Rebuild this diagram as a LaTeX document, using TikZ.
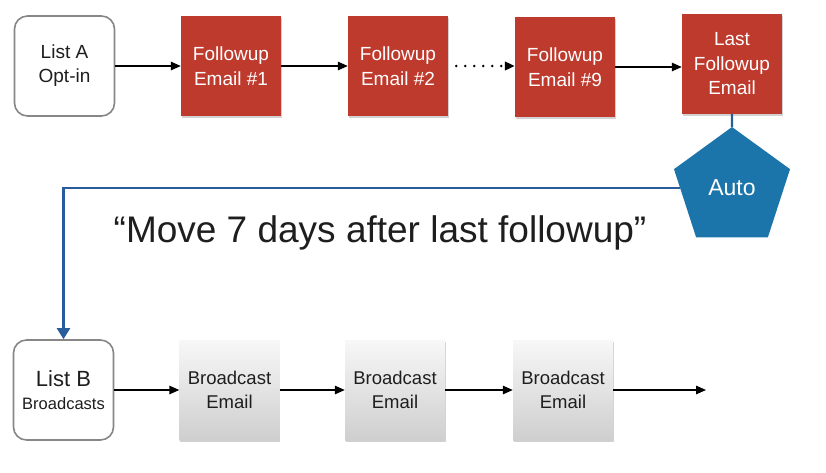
\documentclass[tikz,border=0pt]{standalone}
\usepackage{fontspec}
\setmainfont{Liberation Sans}
\usetikzlibrary{shapes.geometric,arrows.meta,shadows}
\definecolor{fured}{RGB}{190,58,45}
\definecolor{autoblue}{RGB}{28,117,170}
\definecolor{lineblue}{RGB}{40,92,155}
\definecolor{listgray}{RGB}{135,135,135}
\definecolor{txtdark}{RGB}{30,30,30}
\tikzset{
  listbox/.style={draw=listgray, line width=1.6pt, rounded corners=13pt, fill=white,
    minimum width=100pt, minimum height=100pt, inner sep=0pt, align=center, text=txtdark},
  redbox/.style={fill=fured, minimum width=100pt, minimum height=100pt, inner sep=0pt,
    align=center, text=white, font=\fontsize{19}{24.5}\selectfont,
    drop shadow={shadow xshift=0.5pt, shadow yshift=-2pt, opacity=0.35}},
  bcbox/.style={top color=gray!6, bottom color=gray!38, minimum width=100pt, minimum height=100pt,
    inner sep=0pt, align=center, text=txtdark, font=\fontsize{18.5}{24}\selectfont,
    drop shadow={shadow xshift=0.5pt, shadow yshift=-2pt, opacity=0.35}},
  autoshape/.style={regular polygon, regular polygon sides=5, minimum size=122pt, inner sep=0pt,
    fill=autoblue, text=white, font=\fontsize{23}{27}\selectfont},
  flow/.style={-{Triangle[length=10pt,width=8.5pt]}, line width=1.4pt, black},
  dotflow/.style={flow, dash pattern=on 0pt off 9pt, line cap=round, line width=2.6pt},
  moveline/.style={lineblue, line width=2.2pt},
  movearrow/.style={moveline, -{Triangle[length=11pt,width=13pt]}},
}
\begin{document}
\begin{tikzpicture}[x=1pt,y=-1pt]
\fill[white] (0,0) rectangle (826,472);
\useasboundingbox (0,0) rectangle (826,472);

% top row
\node[listbox, font=\fontsize{19}{24}\selectfont] (lista) at (64.5,66) {List A\\Opt-in};
\node[redbox] (f1) at (231,66) {Followup\\Email \#1};
\node[redbox] (f2) at (398,66) {Followup\\Email \#2};
\node[redbox] (f9) at (565,67) {Followup\\Email \#9};
\node[redbox] (last) at (732,64) {Last\\Followup\\Email};

\draw[flow] (lista.east) -- (f1.west);
\draw[flow] (f1.east) -- (f2.west);
\draw[dotflow] ([xshift=8pt]f2.east) -- (f9.west |- f2.east);
\draw[flow] (f9.east) -- (last.west |- f9.east);

% auto pentagon and move line
\node[autoshape] (auto) at (732,188) {Auto};
\draw[moveline] (last.south) -- (auto.north);

% bottom row
\node[listbox, font=\fontsize{22}{23.5}\selectfont] (listb) at (63.5,390) {List B\\{\fontsize{16.5}{18}\selectfont Broadcasts}};
\draw[movearrow] (auto.west) -| (listb.north);

\node[font=\fontsize{37}{40}\selectfont, text=txtdark, anchor=base] (movetxt) at (380,242) {“Move 7 days after last followup”};

\node[bcbox] (b1) at (229.5,390) {Broadcast\\Email};
\node[bcbox] (b2) at (395,390) {Broadcast\\Email};
\node[bcbox] (b3) at (563,390) {Broadcast\\Email};
\coordinate (bend) at (706,390);

\draw[flow] (listb.east |- b1.west) -- (b1.west);
\draw[flow] (b1.east) -- (b2.west);
\draw[flow] (b2.east) -- (b3.west);
\draw[flow] (b3.east) -- (bend);
\end{tikzpicture}
\end{document}
